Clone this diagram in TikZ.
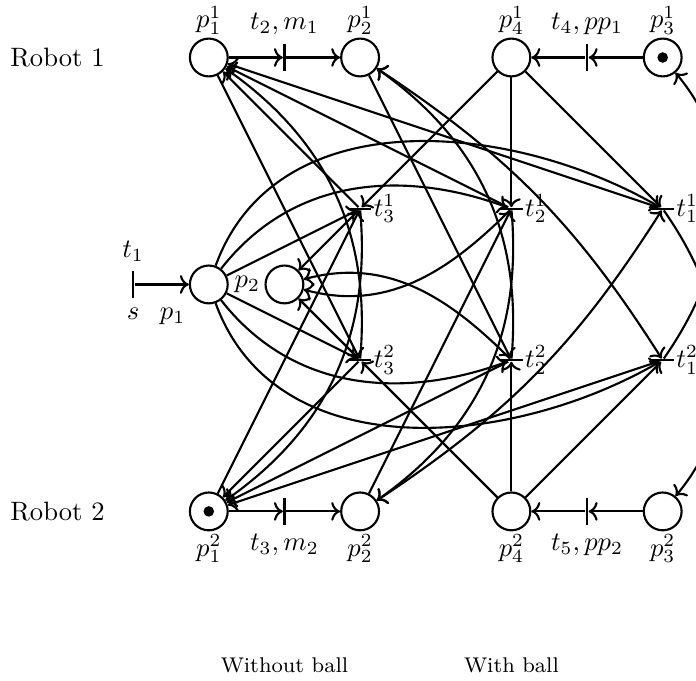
\documentclass[tikz,border=0pt]{standalone}
\usepackage{amsmath}
\usetikzlibrary{arrows.meta,positioning}

\begin{document}
\begin{tikzpicture}[
    place/.style={circle,draw,thick,minimum size=5mm,inner sep=0pt},
    tbar/.style={fill,minimum width=3mm,minimum height=0.8pt,inner sep=0pt},
    vbar/.style={fill,minimum width=0.8pt,minimum height=3.5mm,inner sep=0pt},
    tokendot/.style={circle,fill,minimum size=1.4mm,inner sep=0pt},
    arr/.style={->,thick}]
  \useasboundingbox (-2.76,-2.24) rectangle (6.44,6.76);

  %% Robot 1 (top row)
  \node (r1) at (-2,6) {Robot 1};
  \node[place,label={[inner sep=1pt]above:$p_1^1$}] (p11) at (0,6) {};
  \node[vbar,label=above:{$t_2,m_1$}] (tm1) at (1,6) {};
  \node[place,label={[inner sep=1pt]above:$p_2^1$}] (p21) at (2,6) {};
  \node[place,label={[inner sep=1pt]above:$p_4^1$}] (p41) at (4,6) {};
  \node[vbar,label=above:{$t_4,pp_1$}] (tpp1) at (5,6) {};
  \node[place,label={[inner sep=1pt]above:$p_3^1$}] (p31) at (6,6) {};
  \node[tokendot] (k31) at (p31) {};

  %% Robot 2 (bottom row)
  \node (r2) at (-2,0) {Robot 2};
  \node[place,label={[inner sep=1pt]below:$p_1^2$}] (p12) at (0,0) {};
  \node[tokendot] (k12) at (p12) {};
  \node[vbar,label=below:{$t_3,m_2$}] (tm2) at (1,0) {};
  \node[place,label={[inner sep=1pt]below:$p_2^2$}] (p22) at (2,0) {};
  \node[place,label={[inner sep=1pt]below:$p_4^2$}] (p42) at (4,0) {};
  \node[vbar,label=below:{$t_5,pp_2$}] (tpp2) at (5,0) {};
  \node[place,label={[inner sep=1pt]below:$p_3^2$}] (p32) at (6,0) {};

  %% shared places
  \node[vbar,label=above:$t_1$,label=below:$s$] (t1) at (-1,3) {};
  \node[place,label=below left:$p_1$] (p1) at (0,3) {};
  \node[place,label={[inner sep=1.5pt]left:$p_2$}] (p2) at (1,3) {};

  %% transitions
  \node[tbar,label={[inner sep=0.5pt]right:$t_3^1$}] (t31) at (2,4) {};
  \node[tbar,label={[inner sep=0.5pt]right:$t_3^2$}] (t32) at (2,2) {};
  \node[tbar,label={[inner sep=0.5pt]right:$t_2^1$}] (t21) at (4,4) {};
  \node[tbar,label={[inner sep=0.5pt]right:$t_2^2$}] (t22) at (4,2) {};
  \node[tbar,label={[inner sep=0.5pt]right:$t_1^1$}] (t11) at (6,4) {};
  \node[tbar,label={[inner sep=0.5pt]right:$t_1^2$}] (t12) at (6,2) {};

  %% column captions
  \node[font=\footnotesize] (nb) at (1,-2.04) {Without ball};
  \node[font=\footnotesize] (wb) at (4,-2.04) {With ball};

  %% local moves
  \draw[arr] (p11) -- (tm1);
  \draw[arr] (tm1) -- (p21);
  \draw[arr] (p31) -- (tpp1);
  \draw[arr] (tpp1) -- (p41);
  \draw[arr] (p12) -- (tm2);
  \draw[arr] (tm2) -- (p22);
  \draw[arr] (p32) -- (tpp2);
  \draw[arr] (tpp2) -- (p42);
  \draw[arr] (t1) -- (p1);

  %% from p1
  \draw[arr] (p1) -- (t31);
  \draw[arr] (p1) -- (t32);
  \draw[arr] (p1) to[out=52,in=160] (t21);
  \draw[arr] (p1) to[out=-52,in=-160] (t22);
  \draw[arr] (p1) to[out=70,in=150] (t11);
  \draw[arr] (p1) to[out=-70,in=-150] (t12);

  %% into p2
  \draw[arr] (t31) -- (p2);
  \draw[arr] (t32) -- (p2);
  \draw[arr] (t21) to[out=225,in=-15] (p2);
  \draw[arr] (t22) to[out=135,in=15] (p2);

  %% ball holder
  \draw[arr] (p41) -- (t31);
  \draw[arr] (p41) -- (t21);
  \draw[arr] (p41) -- (t11);
  \draw[arr] (p42) -- (t32);
  \draw[arr] (p42) -- (t22);
  \draw[arr] (p42) -- (t12);

  %% back without ball
  \draw[arr] (t31) -- (p11);
  \draw[arr] (t21) -- (p11);
  \draw[arr] (t11) -- (p11);
  \draw[arr] (t32) -- (p12);
  \draw[arr] (t22) -- (p12);
  \draw[arr] (t12) -- (p12);

  %% other robot
  \draw[arr] (p12) -- (t31);
  \draw[arr] (t31) to[bend left=30] (p12);
  \draw[arr] (p11) -- (t32);
  \draw[arr] (t32) to[bend right=30] (p11);
  \draw[arr] (p22) -- (t21);
  \draw[arr] (t21) to[bend left=30] (p22);
  \draw[arr] (p21) -- (t22);
  \draw[arr] (t22) to[bend right=30] (p21);
  \draw[arr,<->] (p22) to[bend right=12] (t11);
  \draw[arr,<->] (p21) to[bend left=12] (t12);

  %% pass
  \draw[arr] (t11) to[out=-55,in=50] (p32);
  \draw[arr] (t12) to[out=55,in=-50] (p31);
\end{tikzpicture}
\end{document}
